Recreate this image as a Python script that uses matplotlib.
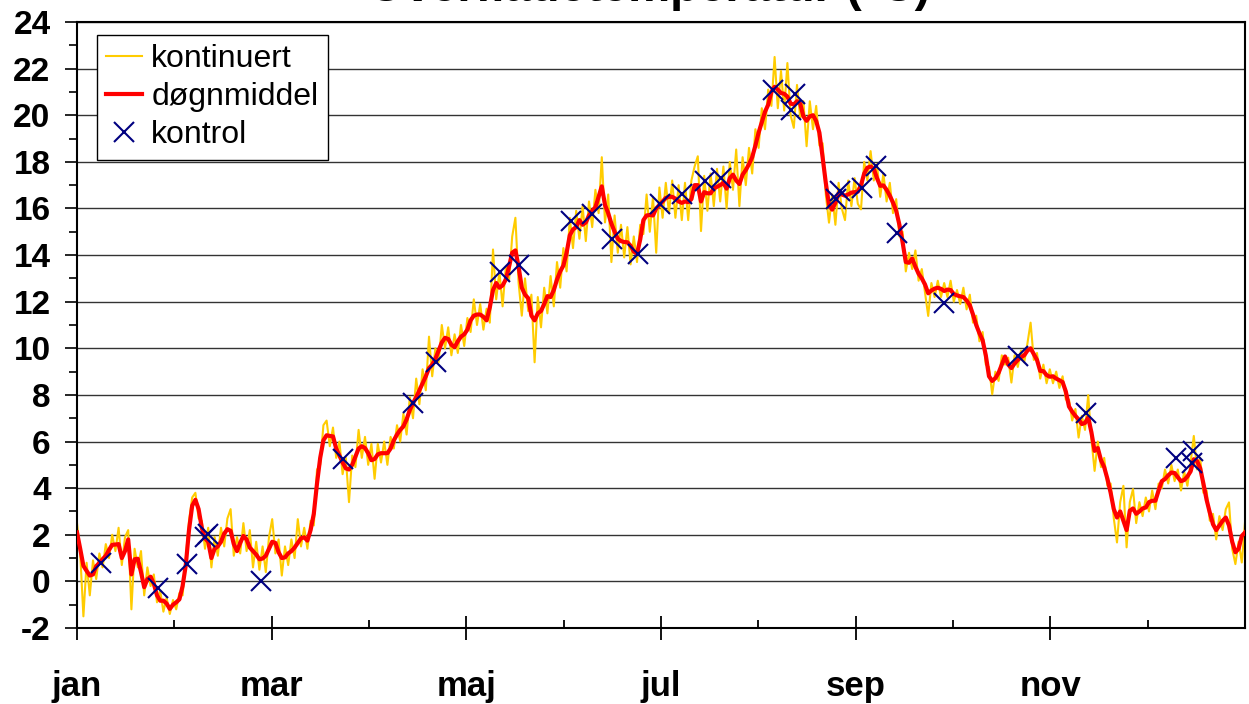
import numpy as np
import matplotlib.pyplot as plt

# døgnmiddel, one value per day (day 0 .. 365)
doegnmiddel = [
    2.1, 1.4, 0.67, 0.45, 0.25, 0.3, 0.65, 0.8, 0.95, 1.1,
    1.35, 1.57, 1.58, 1.6, 1.0, 1.3, 1.8, 0.3, 0.95, 0.97,
    0.4, -0.25, 0.1, 0.2, -0.1, -0.6, -0.83, -0.83, -0.95, -1.18,
    -1.0, -0.9, -0.77, -0.2, 0.7, 2.2, 3.25, 3.5, 3.1, 2.3,
    1.85, 1.7, 1.0, 1.4, 1.5, 1.7, 2.05, 2.24, 2.17, 1.6,
    1.3, 1.65, 1.95, 1.8, 1.45, 1.3, 1.15, 0.95, 0.98, 1.1,
    1.4, 1.7, 1.65, 1.25, 1.0, 1.03, 1.2, 1.3, 1.45, 1.65,
    1.85, 1.89, 1.75, 2.2, 2.9, 4.2, 5.3, 6.05, 6.27, 6.24,
    6.22, 5.7, 5.4, 5.1, 4.85, 4.8, 5.0, 5.35, 5.7, 5.8,
    5.72, 5.5, 5.2, 5.25, 5.45, 5.5, 5.5, 5.5, 5.7, 6.05,
    6.3, 6.5, 6.65, 6.95, 7.35, 7.65, 7.9, 8.2, 8.5, 8.8,
    9.15, 9.3, 9.55, 9.9, 10.25, 10.45, 10.4, 10.15, 10.05, 10.3,
    10.5, 10.6, 10.8, 11.2, 11.4, 11.45, 11.45, 11.35, 11.2, 11.75,
    12.5, 12.8, 12.6, 12.7, 12.95, 13.5, 14.1, 14.2, 13.5, 12.6,
    12.3, 12.15, 11.4, 11.2, 11.5, 11.6, 11.9, 12.24, 12.2, 12.5,
    12.95, 13.3, 13.55, 14.1, 14.85, 15.1, 15.2, 15.5, 15.3, 15.4,
    15.7, 15.9, 16.05, 16.5, 16.95, 16.15, 15.8, 15.35, 15.0, 14.7,
    14.6, 14.56, 14.55, 14.4, 14.15, 14.05, 14.67, 15.5, 15.7, 15.72,
    15.7, 16.0, 16.15, 16.3, 16.45, 16.5, 16.5, 16.42, 16.3, 16.24,
    16.3, 16.27, 16.4, 17.0, 17.0, 16.3, 16.7, 16.65, 16.65, 16.85,
    16.93, 17.0, 17.1, 16.85, 17.3, 17.45, 17.2, 17.05, 17.45, 17.65,
    17.9, 18.2, 18.7, 19.25, 19.7, 20.15, 20.45, 21.0, 21.22, 21.1,
    20.95, 20.92, 20.8, 20.5, 20.46, 20.6, 20.5, 19.95, 19.76, 19.95,
    20.0, 19.75, 19.25, 18.2, 17.1, 16.15, 15.95, 16.25, 16.65, 16.6,
    16.55, 16.6, 16.68, 16.7, 16.72, 17.0, 17.5, 17.75, 17.8, 17.7,
    17.3, 16.97, 16.99, 16.8, 16.55, 16.25, 15.9, 15.3, 14.55, 13.7,
    13.67, 13.85, 13.5, 13.2, 13.0, 12.74, 12.36, 12.48, 12.56, 12.6,
    12.55, 12.46, 12.52, 12.5, 12.33, 12.27, 12.23, 12.2, 12.05, 11.85,
    11.45, 11.0, 10.65, 10.35, 9.7, 8.8, 8.6, 8.72, 8.95, 9.3,
    9.65, 9.3, 9.15, 9.35, 9.5, 9.62, 9.7, 9.9, 10.0, 9.75,
    9.5, 9.03, 9.02, 8.85, 8.78, 8.8, 8.7, 8.63, 8.55, 8.15,
    7.5, 7.28, 7.1, 6.95, 6.75, 6.8, 7.03, 6.4, 5.6, 5.72,
    5.2, 4.9, 4.4, 3.81, 3.1, 2.74, 3.0, 2.6, 2.2, 3.03,
    3.13, 2.9, 3.0, 3.13, 3.17, 3.4, 3.46, 3.46, 3.9, 4.3,
    4.39, 4.55, 4.67, 4.65, 4.47, 4.3, 4.35, 4.5, 4.72, 5.24,
    5.17, 4.85, 4.2, 3.5, 2.95, 2.45, 2.2, 2.4, 2.6, 2.74,
    2.4, 1.7, 1.25, 1.4, 1.95, 2.1,
]

kontinuert = [
    2.5, 1.2, -1.5, 0.8, -0.6, 0.9, 0.1, 1.2, 0.6, 1.6,
    1.0, 2.0, 1.3, 2.3, 0.7, 1.9, 2.2, -1.2, 1.4, 0.6,
    1.3, -0.6, 0.6, -0.2, 0.3, -0.9, -0.4, -1.3, -0.7, -1.4,
    -0.8, -1.2, -0.5, -0.6, 1.0, 2.6, 3.6, 3.8, 2.7, 2.6,
    1.4, 2.3, 0.6, 1.9, 1.1, 2.3, 1.5, 2.7, 3.1, 1.1,
    1.9, 1.2, 2.5, 1.3, 2.2, 0.6, 1.7, 0.5, 1.5, 0.4,
    1.9, 2.67, 1.2, 1.8, 0.25, 1.5, 0.7, 1.8, 1.0, 2.67,
    1.5, 2.3, 1.4, 2.6, 2.4, 4.8, 5.0, 6.7, 6.9, 5.8,
    6.6, 5.3, 6.0, 4.6, 5.3, 3.4, 5.4, 4.9, 6.5, 5.3,
    6.2, 5.0, 5.9, 4.4, 5.9, 5.1, 6.0, 5.0, 6.2, 5.7,
    6.7, 6.0, 7.2, 6.3, 7.9, 7.0, 8.7, 7.6, 9.1, 8.2,
    10.5, 8.8, 10.0, 9.4, 11.0, 10.0, 10.9, 9.7, 10.6, 9.8,
    11.0, 10.1, 11.3, 10.7, 12.1, 11.0, 11.9, 10.8, 11.7, 11.1,
    14.24, 12.1, 13.3, 11.8, 13.5, 12.9, 14.8, 15.6, 12.8, 11.4,
    13.0, 11.6, 12.3, 9.4, 12.2, 10.9, 12.6, 11.5, 13.1, 11.8,
    13.7, 12.6, 14.3, 13.3, 15.6, 14.3, 15.9, 14.7, 16.1, 14.6,
    16.3, 15.2, 16.8, 15.8, 18.2, 15.4, 16.6, 13.7, 15.7, 14.1,
    15.3, 13.9, 15.2, 13.6, 14.8, 13.7, 15.3, 14.9, 16.6, 15.0,
    16.5, 14.1, 16.9, 15.6, 17.1, 15.8, 17.2, 15.6, 17.0, 15.5,
    17.1, 15.5, 17.2, 17.8, 18.24, 15.03, 17.4, 15.9, 17.5, 16.1,
    17.7, 16.3, 17.8, 16.0, 18.0, 16.8, 18.53, 16.1, 18.2, 17.0,
    18.6, 17.5, 19.4, 18.6, 20.3, 19.4, 21.1, 20.4, 22.5, 20.3,
    21.9, 20.2, 22.24, 20.0, 19.46, 21.3, 19.9, 20.6, 18.67, 20.6,
    19.4, 20.4, 18.7, 18.8, 16.6, 15.39, 16.6, 15.3, 17.1, 16.0,
    15.5, 17.2, 16.1, 17.3, 16.2, 15.96, 18.0, 17.2, 18.46, 17.2,
    17.9, 16.5, 17.5, 16.3, 17.1, 15.8, 16.4, 14.8, 15.0, 13.3,
    14.1, 13.4, 14.2, 12.9, 13.4, 12.4, 11.39, 12.8, 12.2, 12.9,
    12.2, 12.8, 12.2, 12.9, 12.0, 12.5, 11.9, 12.6, 11.67, 12.3,
    11.1, 11.4, 10.3, 10.7, 9.3, 9.2, 8.03, 9.0, 8.6, 9.7,
    9.3, 9.6, 8.53, 9.7, 9.2, 9.9, 9.4, 10.2, 11.1, 9.5,
    9.8, 8.7, 9.3, 8.5, 9.1, 8.5, 9.0, 8.3, 8.8, 7.8,
    7.8, 6.9, 7.4, 6.17, 7.1, 6.5, 7.99, 6.1, 4.74, 6.0,
    4.9, 5.3, 4.1, 4.2, 2.7, 1.67, 3.4, 4.1, 1.46, 3.4,
    3.96, 2.5, 3.4, 2.8, 3.6, 3.0, 3.9, 3.1, 4.2, 4.0,
    4.8, 4.2, 5.0, 4.3, 4.8, 3.9, 4.7, 4.1, 5.1, 6.24,
    4.8, 5.3, 3.8, 3.9, 2.6, 2.9, 1.8, 2.8, 2.2, 3.1,
    3.39, 1.4, 0.74, 1.7, 0.81, 2.53,
]

# kontrolmaalinger (dag, temperatur)
kontrol_dag = [7.4, 25.4, 34.3, 40.0, 41.0, 57.4, 83.2, 105.1, 112.2,
               132.2, 138.2, 154.4, 160.8, 167.3, 175.2, 182.2, 189.0,
               196.3, 201.2, 217.6, 224.4, 223.1, 237.1, 238.4, 245.2,
               249.7, 256.1, 271.0, 294.1, 315.3, 343.3, 348.8, 348.3]
kontrol_temp = [0.79, -0.3, 0.74, 1.89, 2.03, 0.0, 5.27, 7.67, 9.41,
                13.29, 13.59, 15.46, 15.77, 14.71, 14.03, 16.2, 16.6,
                17.17, 17.29, 21.07, 20.93, 20.21, 16.39, 16.74, 16.89,
                17.82, 14.93, 11.96, 9.67, 7.24, 5.31, 5.6, 5.1]

maaneder = ["jan", "mar", "maj", "jul", "sep", "nov"]

plt.rcParams['font.family'] = ['Liberation Sans', 'DejaVu Sans']
plt.rcParams['axes.unicode_minus'] = False

fig = plt.figure(figsize=(12.49, 7.04), dpi=100)
ax = fig.add_axes([77 / 1249, 76 / 704, 1168 / 1249, 606 / 704])

dage = np.arange(len(doegnmiddel))
ax.plot(dage, kontinuert, color='#FFCC00', lw=1.5, label='kontinuert', zorder=2)
ax.plot(dage, doegnmiddel, color='#FF0000', lw=3, label='døgnmiddel', zorder=3)
ax.plot(kontrol_dag, kontrol_temp, ls='none', marker='x', ms=14, mew=1.5,
        color='#000080', label='kontrol', zorder=4)

ax.set_xlim(0, 365)
ax.set_ylim(-2, 24)

mlen = 365 / 12
ax.set_xticks([i * mlen for i in range(0, 12, 2)])
ax.set_xticklabels(maaneder, fontsize=25, fontweight='bold')
ax.set_xticks([i * mlen for i in range(1, 12, 2)], minor=True)
ax.tick_params(axis='x', which='major', direction='inout', length=17, width=1.3, pad=22)
ax.tick_params(axis='x', which='minor', direction='in', length=6, width=1.3)

ax.set_yticks(range(-2, 25, 2))
ax.set_yticks(range(-2, 25), minor=True)
for lab in ax.get_yticklabels():
    lab.set_fontsize(24)
    lab.set_fontweight('bold')
ax.tick_params(axis='y', which='major', direction='out', length=9, width=1.2, pad=10)
ax.tick_params(axis='y', which='minor', direction='out', length=6, width=1.2)

ax.grid(axis='y', which='major', color='#333333', lw=1.0)
ax.set_axisbelow(True)
for s in ax.spines.values():
    s.set_linewidth(1.5)

leg = ax.legend(loc='upper left', bbox_to_anchor=(0.017, 0.979), borderaxespad=0,
                fontsize=23, fancybox=False, framealpha=1, edgecolor='black',
                handlelength=1.1, handletextpad=0.3, labelspacing=0.25,
                borderpad=0.3)
leg.get_frame().set_linewidth(1.0)

fig.text(0.52, 0.9985, "Overfladetemperatur (°C)", ha='center', va='baseline',
         fontsize=34, fontweight='bold')

fig.savefig("out.png", dpi=100)
plt.close(fig)
